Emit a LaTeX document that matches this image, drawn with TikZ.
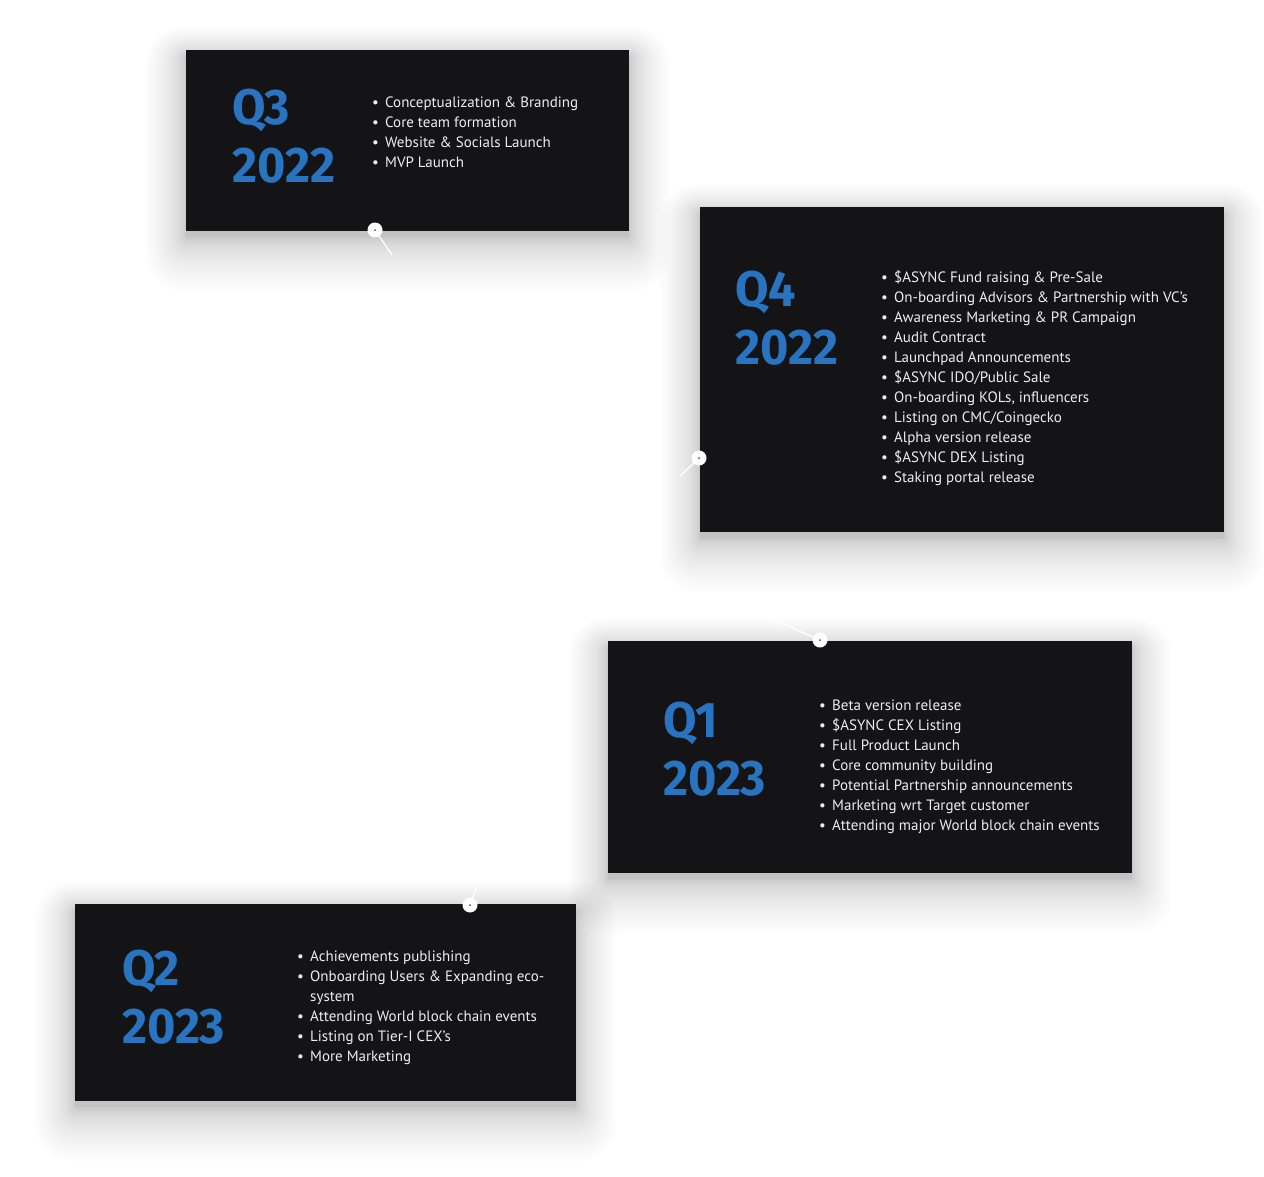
\documentclass[tikz,border=0pt]{standalone}
\usepackage{fontspec}
\setmainfont{PT Sans}
\newfontfamily\quarterfont{Fira Sans}[FakeStretch=0.97]
\usepackage{tikz}

\definecolor{boxdark}{HTML}{141417}
\definecolor{qblue}{HTML}{2874C0}
\definecolor{itemtext}{HTML}{EEEEEE}

% soft drop shadow behind a card: x1 y1 x2 y2
\newcommand{\cardshadow}[4]{%
  \foreach \i in {1,...,30}{%
    \fill[black, opacity=0.0075, rounded corners=2pt+\i*\i*0.04pt]
      (#1-\i*\i*0.045, #2-\i*\i*0.032+6) rectangle (#3+\i*\i*0.045, #4+\i*\i*0.06+6);
  }}
\newcommand{\itm}[1]{\makebox[13pt][l]{\textbullet}#1}

\begin{document}
\begin{tikzpicture}[x=1pt, y=-1pt,
  card/.style={fill=boxdark, draw=none, inner sep=0pt},
  quarter/.style={anchor=north west, inner sep=0pt, text=qblue, align=left,
    font=\quarterfont\bfseries\fontsize{50}{58}\selectfont},
  items/.style={anchor=north west, inner sep=0pt, text=itemtext, align=left,
    font=\fontsize{15}{20}\selectfont},
  knob/.style={circle, fill=white, minimum size=15pt, inner sep=0pt},
  link/.style={white, line width=1.3pt, line cap=round}]
  \useasboundingbox (0,0) rectangle (1264,1176);

  % shadows
  \cardshadow{186}{50}{629}{231}
  \cardshadow{700}{207}{1224}{532}
  \cardshadow{608}{641}{1132}{873}
  \cardshadow{75}{904}{576}{1101}

  % cards
  \fill[card] (186,50) rectangle (629,231);
  \fill[card] (700,207) rectangle (1224,532);
  \fill[card] (608,641) rectangle (1132,873);
  \fill[card] (75,904) rectangle (576,1101);

  % Q3 2022
  \node[quarter] (q3) at (232,89) {Q3\\2022};
  \node[items] (l3) at (372,97) {\itm{Conceptualization \& Branding}\\
    \itm{Core team formation}\\ \itm{Website \& Socials Launch}\\ \itm{MVP Launch}};

  % Q4 2022
  \node[quarter] (q4) at (735,271) {Q4\\2022};
  \node[items] (l4) at (881,270) {\itm{\$ASYNC Fund raising \& Pre-Sale}\\
    \itm{On-boarding Advisors \& Partnership with VC’s}\\
    \itm{Awareness Marketing \& PR Campaign}\\ \itm{Audit Contract}\\
    \itm{Launchpad Announcements}\\ \itm{\$ASYNC IDO/Public Sale}\\
    \itm{On-boarding KOLs, influencers}\\ \itm{Listing on CMC/Coingecko}\\
    \itm{Alpha version release}\\ \itm{\$ASYNC DEX Listing}\\
    \itm{Staking portal release}};

  % Q1 2023
  \node[quarter] (q1) at (663,702) {Q1\\2023};
  \node[items] (l1) at (819,700) {\itm{Beta version release}\\
    \itm{\$ASYNC CEX Listing}\\ \itm{Full Product Launch}\\
    \itm{Core community building}\\ \itm{Potential Partnership announcements}\\
    \itm{Marketing wrt Target customer}\\ \itm{Attending major World block chain events}};

  % Q2 2023
  \node[quarter] (q2) at (122,950) {Q2\\2023};
  \node[items] (l2) at (297,951) {\itm{Achievements publishing}\\
    \itm{Onboarding Users \& Expanding eco-}\\ \hspace*{13pt}system\\
    \itm{Attending World block chain events}\\ \itm{Listing on Tier-I CEX’s}\\
    \itm{More Marketing}};

  % timeline knobs
  \node[knob] (k3) at (375,230) {};
  \node[knob] (k4) at (699,458) {};
  \node[knob] (k1) at (820,640) {};
  \node[knob] (k2) at (470,905) {};
  \coordinate (e3) at (392,255);
  \coordinate (e4) at (680,476);
  \coordinate (e1) at (735,603);
  \coordinate (e2) at (492,848);
  \draw[link] (k3) -- (e3);
  \draw[link] (k4) -- (e4);
  \draw[link] (k1) -- (e1);
  \draw[link] (k2) -- (e2);
  \foreach \k in {k3,k4,k1,k2}
    \fill[black!70] (\k) circle (1pt);
\end{tikzpicture}
\end{document}
